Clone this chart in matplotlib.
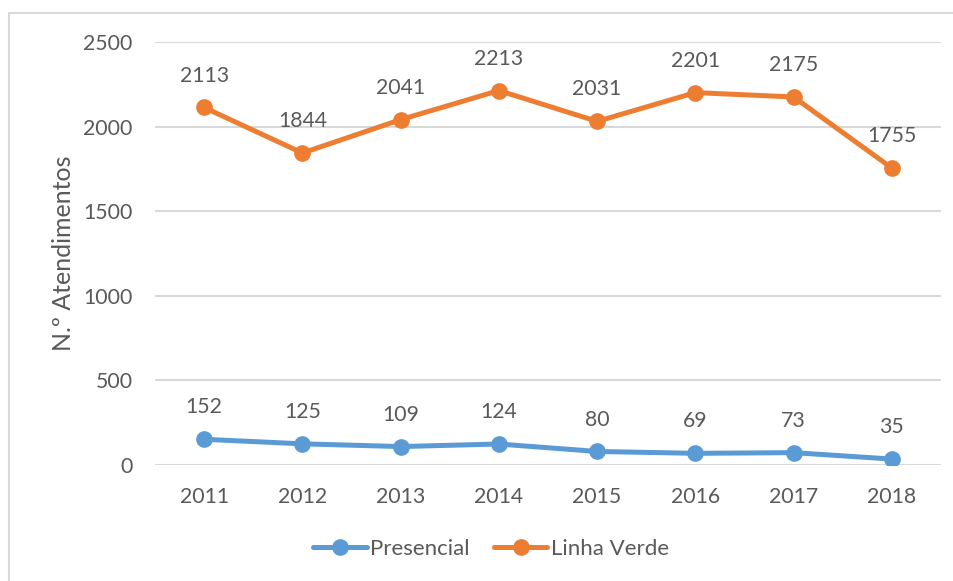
import matplotlib
matplotlib.use("Agg")
import matplotlib.pyplot as plt
from matplotlib.patches import Rectangle

years = ["2011", "2012", "2013", "2014", "2015", "2016", "2017", "2018"]
presencial = [152, 125, 109, 124, 80, 69, 73, 35]
linha_verde = [2113, 1844, 2041, 2213, 2031, 2201, 2175, 1755]
yticks = [0, 500, 1000, 1500, 2000, 2500]

plt.rcParams["font.family"] = ["Lato", "DejaVu Sans"]
text_color = "#595959"
grid_color = "#D9D9D9"

fig = plt.figure(figsize=(9.54, 5.81), dpi=100)
ax = fig.add_axes([155 / 954, 1 - 465 / 581, (941 - 155) / 954, (465 - 42) / 581])

# outer chart frame
fig.patches.append(Rectangle((9 / 954, -0.1), 1.2, 1 - 13 / 581 + 0.1,
                             transform=fig.transFigure, fill=False,
                             edgecolor=grid_color, linewidth=1.5, zorder=0))

x = list(range(len(years)))
series = [("Presencial", presencial, "#5B9BD5"), ("Linha Verde", linha_verde, "#ED7D31")]
for name, vals, col in series:
    ax.plot(x, vals, color=col, linewidth=3.6, marker="o", markersize=11,
            label=name, solid_capstyle="round", zorder=3)
    for xi, v in zip(x, vals):
        ax.annotate(str(v), (xi, v), xytext=(0, 23), textcoords="offset points",
                    ha="center", va="center", fontsize=15.3, color=text_color)

ax.set_xlim(-0.5, len(years) - 0.5)
ax.set_ylim(0, 2500)
ax.set_yticks(yticks)
ax.set_xticks(x)
ax.set_xticklabels(years)
ax.grid(axis="y", color=grid_color, linewidth=1.5, zorder=0)
ax.set_axisbelow(True)
for s in ax.spines.values():
    s.set_visible(False)
ax.tick_params(axis="both", length=0, labelsize=15.3, labelcolor=text_color)
ax.tick_params(axis="y", pad=16)
ax.tick_params(axis="x", pad=16)
ax.set_ylabel("N.º Atendimentos", fontsize=18, color=text_color, labelpad=6)

leg = fig.legend(loc="center", bbox_to_anchor=(491 / 954, 1 - 549 / 581), ncol=2,
                 frameon=False, fontsize=16, handlelength=2.4, handletextpad=0.15,
                 columnspacing=1.1, labelcolor=text_color)

fig.savefig("out.png", dpi=100)
